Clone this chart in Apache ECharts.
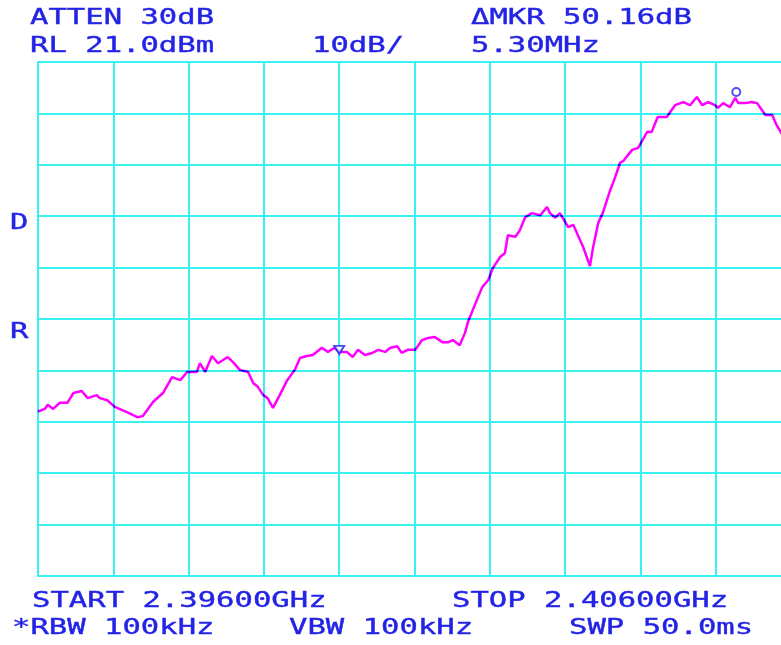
<!DOCTYPE html>
<html><head><meta charset="utf-8">
<script src="https://cdn.jsdelivr.net/npm/echarts@6/dist/echarts.min.js"></script>
<style>html,body{margin:0;padding:0;background:#fff;}#c{width:781px;height:645px;}</style>
</head><body><div id="c"></div>
<script>
// Reference level (top of screen), dBm, and scale
var refLevel = 21.0;
var startMHz = 2396.0;
var stopMHz = 2406.0;

// Trace: frequency (MHz) and level (dBm)
var freqMHz = [2396.00, 2396.09, 2396.13, 2396.20, 2396.29, 2396.39, 2396.47, 2396.58, 2396.66, 2396.78, 2396.82, 2396.92, 2397.02, 2397.18, 2397.32, 2397.39, 2397.53, 2397.66, 2397.78, 2397.89, 2397.98, 2398.11, 2398.15, 2398.22, 2398.31, 2398.39, 2398.52, 2398.59, 2398.68, 2398.79, 2398.86, 2398.92, 2398.99, 2399.05, 2399.12, 2399.21, 2399.31, 2399.41, 2399.48, 2399.57, 2399.65, 2399.77, 2399.85, 2399.94, 2400.00, 2400.10, 2400.18, 2400.25, 2400.34, 2400.44, 2400.52, 2400.61, 2400.68, 2400.77, 2400.83, 2400.91, 2401.01, 2401.10, 2401.18, 2401.27, 2401.37, 2401.45, 2401.51, 2401.60, 2401.67, 2401.71, 2401.80, 2401.90, 2401.98, 2402.04, 2402.14, 2402.20, 2402.24, 2402.34, 2402.40, 2402.47, 2402.56, 2402.67, 2402.76, 2402.80, 2402.87, 2402.93, 2403.00, 2403.04, 2403.11, 2403.17, 2403.24, 2403.33, 2403.37, 2403.44, 2403.50, 2403.60, 2403.66, 2403.73, 2403.77, 2403.89, 2403.97, 2404.09, 2404.15, 2404.23, 2404.35, 2404.46, 2404.57, 2404.66, 2404.75, 2404.82, 2404.90, 2404.99, 2405.03, 2405.10, 2405.19, 2405.26, 2405.30, 2405.39, 2405.48, 2405.55, 2405.66, 2405.75, 2405.81, 2405.87, 2406.00];
var levelDbm = [-47.0, -46.5, -45.7, -46.5, -45.3, -45.3, -43.4, -43.0, -44.4, -43.8, -44.4, -44.8, -46.1, -47.1, -48.1, -47.9, -45.1, -43.4, -40.3, -40.9, -39.3, -39.3, -37.6, -39.3, -36.2, -37.6, -36.4, -37.4, -38.9, -39.3, -41.5, -42.2, -43.8, -44.4, -46.3, -43.8, -40.9, -38.9, -36.6, -36.2, -36.0, -34.6, -35.4, -34.6, -35.4, -35.4, -36.4, -35.0, -36.0, -35.6, -35.0, -35.4, -34.6, -34.3, -35.6, -35.0, -35.0, -33.1, -32.7, -32.5, -33.5, -33.5, -33.1, -34.1, -31.7, -29.6, -26.3, -22.8, -21.4, -19.1, -16.9, -16.2, -12.7, -13.0, -11.7, -9.2, -8.4, -8.8, -7.2, -8.4, -9.3, -8.4, -10.1, -11.1, -10.7, -12.7, -15.0, -18.7, -15.2, -10.3, -8.4, -3.9, -1.6, 1.4, 1.7, 3.9, 4.3, 7.4, 7.4, 10.3, 10.3, 12.6, 13.2, 12.6, 14.2, 12.6, 13.2, 12.6, 12.1, 13.0, 12.2, 14.0, 13.0, 13.0, 13.2, 13.0, 10.7, 10.7, 8.7, 7.2, 5.8];

// Markers: delta reference (triangle) and active marker (circle)
var refMarkerFreq = [2400.00];
var refMarkerLevel = [-35.4];
var mkrFreq = [2405.26];
var mkrLevel = [14.0];

// Annotation texts
var topTexts = ["ATTEN 30dB", "RL 21.0dBm", "10dB/", "\u0394MKR 50.16dB", "5.30MHz"];
var bottomTexts = ["START 2.39600GHz", "STOP 2.40600GHz", "*RBW 100kHz", "VBW 100kHz", "SWP 50.0ms"];
var sideTexts = ["D", "R"];

function rel(f, l) { return f.map(function (v, i) { return [v, l[i] - refLevel]; }); }

var BLUE = '#2323e6', CYAN = '#38f2f2', MAG = '#ff00ff';
var FONT = '22px "DejaVu Sans Mono"';
var SX = 1.39;
function txt(t, x, y) {
  return { type: 'text', x: x, y: y, scaleX: SX, silent: true,
    style: { text: t, font: FONT, fill: BLUE, stroke: BLUE, lineWidth: 0.4, verticalAlign: 'middle', align: 'left' } };
}

var chart = echarts.init(document.getElementById('c'), null, { renderer: 'canvas' });
chart.setOption({
  animation: false,
  backgroundColor: '#ffffff',
  grid: { left: 38, top: 62, width: 753, height: 514, containLabel: false, outerBoundsMode: 'none' },
  xAxis: { type: 'value', min: startMHz, max: stopMHz, interval: 1,
    axisLine: { show: true, onZero: false, lineStyle: { color: CYAN, width: 2 } },
    axisTick: { show: false }, axisLabel: { show: false },
    splitLine: { show: true, lineStyle: { color: CYAN, width: 2 } } },
  yAxis: { type: 'value', min: -100, max: 0, interval: 10,
    axisLine: { show: true, onZero: false, lineStyle: { color: CYAN, width: 2 } },
    axisTick: { show: false }, axisLabel: { show: false },
    splitLine: { show: true, lineStyle: { color: CYAN, width: 2 } } },
  series: [
    { type: 'line', data: rel(freqMHz, levelDbm), showSymbol: false, symbol: 'none',
      lineStyle: { color: MAG, width: 2.5 }, blendMode: 'multiply', z: 3 },
    { type: 'scatter', data: rel(refMarkerFreq, refMarkerLevel), symbol: 'emptyTriangle',
      symbolRotate: 180, symbolSize: [10, 8], symbolOffset: [0, -2],
      itemStyle: { color: BLUE, borderColor: BLUE, borderWidth: 2 }, z: 4 },
    { type: 'scatter', data: rel(mkrFreq, mkrLevel), symbol: 'emptyCircle',
      symbolSize: 8, symbolOffset: [1, -6],
      itemStyle: { color: BLUE, borderColor: BLUE, borderWidth: 2 }, z: 4 }
  ],
  graphic: [
    txt(topTexts[0], 30, 18), txt(topTexts[1], 30, 46), txt(topTexts[2], 312, 46),
    txt(topTexts[3], 471, 18), txt(topTexts[4], 471, 46),
    txt(bottomTexts[0], 32, 601), txt(bottomTexts[1], 452, 601),
    txt(bottomTexts[2], 12, 628), txt(bottomTexts[3], 289, 628), txt(bottomTexts[4], 569, 628),
    txt(sideTexts[0], 10, 223), txt(sideTexts[1], 10, 332)
  ]
});
</script></body></html>
